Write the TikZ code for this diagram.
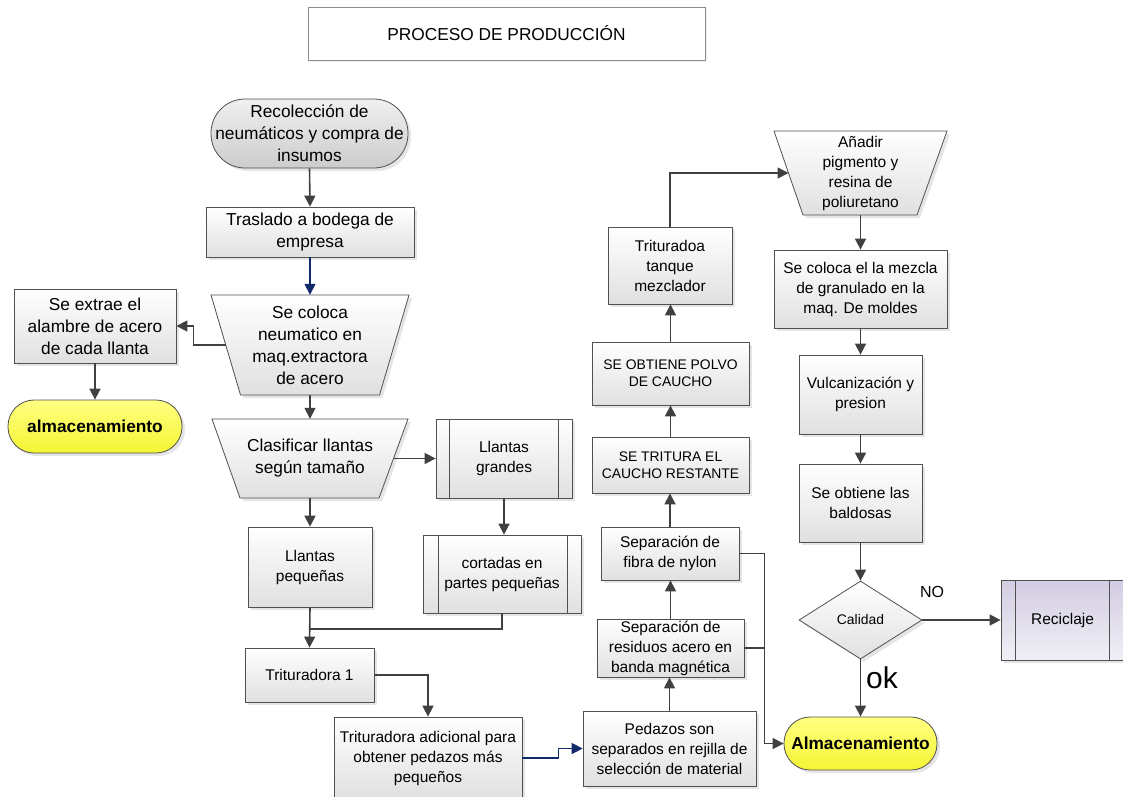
\documentclass[tikz,border=0pt]{standalone}
\usepackage{fontspec}
\setmainfont{Liberation Sans}
\usetikzlibrary{arrows.meta,shapes.geometric,shadows,calc}
\definecolor{bordc}{HTML}{505050}
\definecolor{linec}{HTML}{404040}
\definecolor{bluec}{HTML}{102A6B}
\definecolor{fillb}{HTML}{E0E0E0}
\definecolor{yelt}{HTML}{FFFF80}
\definecolor{yelb}{HTML}{F5F535}
\definecolor{lavt}{HTML}{D3CCE2}
\definecolor{lavb}{HTML}{F0EFF5}
\newcommand\fbig{\fontsize{17.3}{22}\selectfont}
\newcommand\fmed{\fontsize{15.5}{20}\selectfont}
\newcommand\fsml{\fontsize{13.9}{16.7}\selectfont}
\begin{document}
\begin{tikzpicture}[x=1pt,y=-1pt,
  shad/.style={drop shadow={shadow xshift=3pt,shadow yshift=-3pt,fill=black!20}},
  base/.style={draw=bordc,line width=0.8pt,align=center,inner sep=0pt,
    top color=white,bottom color=fillb,shad,font=\fmed},
  box/.style={base,rectangle},
  txt/.style={align=center,inner sep=0pt,rectangle},
  term/.style={base,rectangle},
  arr/.style={draw=linec,line width=1.6pt,-{Triangle[length=11pt,width=11pt]}},
  arrb/.style={arr,draw=bluec,-{Triangle[length=11pt,width=11pt,fill=bluec]},color=bluec},
  ln/.style={draw=linec,line width=1.6pt},
  ppline/.style={draw=bordc,line width=0.8pt}
]
\useasboundingbox (0,0) rectangle (1123,796);
\clip (0,0) rectangle (1123,796);

% title
\node[draw=black!45,line width=0.7pt,fill=white,minimum width=397pt,minimum height=53pt,
  inner sep=0pt,font=\fbig,drop shadow={shadow xshift=1.5pt,shadow yshift=-1.5pt,fill=black!12}]
  (title) at (506.5,33.5) {PROCESO DE PRODUCCIÓN};

% left column
\node[term,rounded corners=34pt,minimum width=197pt,minimum height=69pt,font=\fbig,
  top color=black!6,bottom color=black!20] (rec) at (309.5,133.5)
  {Recolección de\\neumáticos y compra de\\insumos};
\node[box,minimum width=208pt,minimum height=50pt,font=\fbig] (tras) at (310,232)
  {Traslado a bodega de\\empresa};

\path[draw=bordc,line width=0.8pt,top color=white,bottom color=fillb,shad]
  (211,295) -- (409,295) -- (379.5,395) -- (240.5,395) -- cycle;
\node[txt,minimum width=198pt,minimum height=100pt,font=\fbig] (coloca) at (310,345)
  {Se coloca\\neumatico en\\maq.extractora\\de acero};
\coordinate (colocaW) at (225.5,345);

\node[box,minimum width=162pt,minimum height=74pt,font=\fbig] (extrae) at (95,326)
  {Se extrae el\\alambre de acero\\de cada llanta};
\node[term,rounded corners=26pt,minimum width=174pt,minimum height=53pt,
  top color=yelt,bottom color=yelb,font=\fbig\bfseries] (alm1) at (95,426.5)
  {almacenamiento};

\path[draw=bordc,line width=0.8pt,top color=white,bottom color=fillb,shad]
  (212,419) -- (408,419) -- (379,498) -- (240,498) -- cycle;
\node[txt,minimum width=196pt,minimum height=79pt,font=\fbig] (clas) at (310,458.5)
  {Clasificar llantas\\según tamaño};
\coordinate (clasE) at (393.5,458.5);

\node[box,minimum width=136pt,minimum height=79pt] (grandes) at (504,458.5)
  {Llantas\\grandes};
\draw[ppline] ([xshift=14pt]grandes.north west) -- ([xshift=14pt]grandes.south west)
  ([xshift=-14pt]grandes.north east) -- ([xshift=-14pt]grandes.south east);
\node[box,minimum width=158pt,minimum height=78pt] (cortadas) at (502,574)
  {cortadas en\\partes pequeñas};
\draw[ppline] ([xshift=16pt]cortadas.north west) -- ([xshift=16pt]cortadas.south west)
  ([xshift=-14pt]cortadas.north east) -- ([xshift=-14pt]cortadas.south east);

\node[box,minimum width=124pt,minimum height=80pt] (peq) at (310,567)
  {Llantas\\pequeñas};
\node[box,minimum width=129pt,minimum height=54pt] (trit1) at (309.5,675)
  {Trituradora 1};
\node[box,minimum width=188pt,minimum height=82pt] (tadic) at (428,758)
  {Trituradora adicional para\\obtener pedazos más\\pequeños};

% middle column
\node[box,minimum width=173pt,minimum height=75pt] (ped) at (669.5,748.5)
  {Pedazos son\\separados en rejilla de\\selección de material};
\node[box,minimum width=147pt,minimum height=58pt] (res) at (670.5,648)
  {Separación de\\residuos acero en\\banda magnética};
\node[box,minimum width=138pt,minimum height=53pt] (fib) at (670,553.5)
  {Separación de\\fibra de nylon};
\node[box,minimum width=157pt,minimum height=56pt,font=\fsml] (tritura) at (670.5,465)
  {SE TRITURA EL\\CAUCHO RESTANTE};
\node[box,minimum width=157pt,minimum height=63pt,font=\fsml] (polvo) at (670.5,373.5)
  {SE OBTIENE POLVO\\DE CAUCHO};
\node[box,minimum width=124pt,minimum height=77pt] (tanque) at (670,265.5)
  {Trituradoa\\tanque\\mezclador};

% right column
\path[draw=bordc,line width=0.8pt,top color=white,bottom color=fillb,shad]
  (774,131) -- (947,131) -- (917,215) -- (803,215) -- cycle;
\node[txt,minimum width=173pt,minimum height=84pt,font=\fmed] (anadir) at (860.5,173)
  {Añadir\\pigmento y\\resina de\\poliuretano};
\coordinate (anadirW) at (788.5,173);

\node[box,minimum width=173pt,minimum height=78pt] (mezcla) at (860.5,289)
  {Se coloca el la mezcla\\de granulado en la\\maq. De moldes};
\node[box,minimum width=123pt,minimum height=79pt] (vulc) at (860.5,394.5)
  {Vulcanización y\\presion};
\node[box,minimum width=123pt,minimum height=78pt] (bald) at (860.5,503)
  {Se obtiene las\\baldosas};
\node[base,diamond,minimum width=123pt,minimum height=78pt,font=\fsml] (cal) at (860.5,620)
  {Calidad};
\node[box,minimum width=123pt,minimum height=80pt,top color=lavt,bottom color=lavb] (recic) at (1062.5,620)
  {Reciclaje};
\draw[ppline] ([xshift=15pt]recic.north west) -- ([xshift=15pt]recic.south west)
  ([xshift=-15pt]recic.north east) -- ([xshift=-15pt]recic.south east);
\node[term,rounded corners=26pt,minimum width=153pt,minimum height=53pt,
  top color=yelt,bottom color=yelb,font=\fbig\bfseries] (alm2) at (860.5,743.5)
  {Almacenamiento};

\node[txt,font=\fontsize{16}{18}\selectfont] (no) at (932,592) {NO};
\node[txt,font=\fontsize{30}{32}\selectfont] (ok) at (882,678) {ok};

% connectors
\draw[arr] (rec.south) -- (tras.north);
\draw[arrb] (tras.south) -- (coloca.north);
\draw[arr] (colocaW) -- ++(-32,0) |- (extrae.east);
\draw[arr] (extrae.south) -- (alm1.north);
\draw[arr] (coloca.south) -- (clas.north);
\draw[arr] (clasE) -- (grandes.west);
\draw[arr] (clas.south) -- (peq.north);
\draw[arr] (grandes.south) -- (grandes.south |- cortadas.north);
\coordinate (j1) at (310,629);
\draw[ln] (cortadas.south) |- (j1);
\draw[arr] (peq.south) -- (trit1.north);
\draw[arr] (trit1.east) -| (tadic.north);
\draw[arrb] (tadic.east) -- ++(36,0) |- (ped.west);
\draw[arr] (ped.north) -- (ped.north |- res.south);
\draw[arr] (res.north) -- (res.north |- fib.south);
\draw[arr] (fib.north) -- (fib.north |- tritura.south);
\draw[arr] (tritura.north) -- (polvo.south);
\draw[arr] (polvo.north) -- (polvo.north |- tanque.south);
\draw[arr] (tanque.north) |- (anadirW);
\draw[arr] (anadir.south) -- (mezcla.north);
\draw[arr] (mezcla.south) -- (vulc.north);
\draw[arr] (vulc.south) -- (bald.north);
\draw[arr] (bald.south) -- (cal.north);
\draw[arr] (cal.east) -- (recic.west);
\draw[arr] (cal.south) -- (alm2.north);
\draw[arr] (fib.east) -- ++(25,0) coordinate (k) |- (alm2.west);
\draw[ln] (res.east) -- (res.east -| k);
\end{tikzpicture}
\end{document}
